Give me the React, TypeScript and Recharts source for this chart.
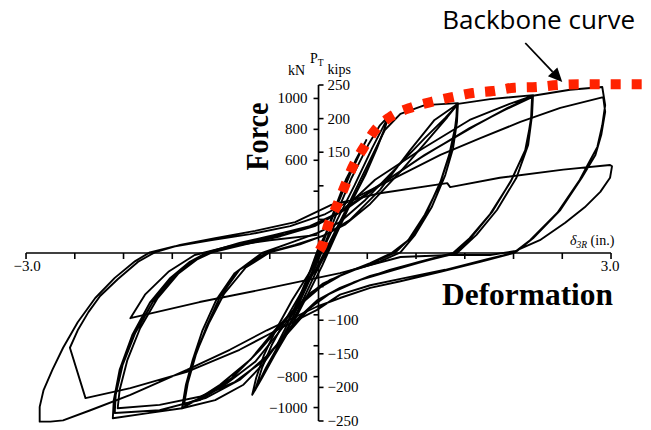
import React from 'react';
import { LineChart, Line, XAxis, YAxis, ReferenceLine, ReferenceDot } from 'recharts';

type Pt = [number, number];

// Lateral deflection δ3R (in.) against shear P_T (kips), one array per amplitude group.
const smallCycles: Pt[] = [
  [0, 0], [0.08, 31], [0.18, 71], [0.28, 109], [0.34, 126], [0.29, 109], [0.2, 74], [0.1, 37],
  [-0.01, 4], [-0.09, -28], [-0.17, -60], [-0.23, -85], [-0.17, -65], [-0.08, -33], [0.02, 4],
  [0.12, 46], [0.24, 91], [0.38, 138], [0.49, 168], [0.44, 153], [0.32, 116], [0.18, 67], [0.04, 16],
  [-0.09, -28], [-0.21, -70], [-0.35, -115], [-0.44, -141], [-0.35, -122], [-0.23, -85], [-0.09, -40],
  [0.04, 4], [0.18, 57],
];

const cycles05: Pt[] = [
  [0.18, 57], [0.34, 112], [0.51, 161], [0.63, 190], [0.72, 204], [0.69, 190], [0.6, 156], [0.48, 116],
  [0.32, 71], [0.17, 24], [0.04, -18], [-0.11, -62], [-0.27, -107], [-0.45, -152], [-0.58, -186],
  [-0.68, -211], [-0.64, -186], [-0.56, -152], [-0.44, -115], [-0.27, -70], [-0.11, -33], [0.04, 4],
  [0.2, 52], [0.37, 101], [0.55, 156], [0.71, 201], [0.68, 186], [0.58, 150], [0.45, 109], [0.28, 61],
  [0.12, 12], [-0.04, -33], [-0.21, -85], [-0.39, -132], [-0.54, -171], [-0.65, -204], [-0.58, -171],
  [-0.48, -137], [-0.33, -97], [-0.19, -62], [-0.03, -25], [0.1, 12], [0.27, 61],
];

const cycles15: Pt[] = [
  [0.27, 61], [0.48, 124], [0.68, 183], [0.84, 207], [1.09, 220], [1.43, 223],
  [1.42, 195], [1.38, 156], [1.3, 116], [1.16, 68], [0.99, 27], [0.84, 1], [0.63, -13], [0.37, -25],
  [0.12, -40], [-0.07, -58], [-0.24, -82], [-0.45, -115], [-0.7, -159], [-1.01, -196], [-1.22, -216],
  [-1.4, -231],
  [-1.36, -196], [-1.29, -159], [-1.19, -115], [-1.05, -70], [-0.86, -30], [-0.58, 0], [-0.29, 15],
  [-0.01, 30], [0.22, 46], [0.48, 79], [0.78, 124], [1.09, 171], [1.3, 201], [1.42, 220],
  [1.41, 190], [1.35, 150], [1.26, 109], [1.12, 64], [0.96, 25], [0.79, 1], [0.58, -13], [0.3, -28],
  [0.04, -46], [-0.14, -67], [-0.34, -100], [-0.6, -144], [-0.89, -186], [-1.16, -213], [-1.38, -226],
  [-1.34, -193], [-1.26, -152], [-1.15, -110], [-1.01, -65], [-0.81, -25], [-0.54, 0], [-0.24, 12],
  [0.04, 25], [0.27, 42], [0.53, 73], [0.84, 121], [1.12, 168], [1.32, 202], [1.43, 222],
  [1.4, 186], [1.34, 146], [1.24, 101], [1.09, 57], [0.92, 19], [0.75, 0], [0.53, -15], [0.27, -30],
  [0.02, -51], [-0.19, -77], [-0.39, -115], [-0.65, -162], [-0.96, -196], [-1.22, -219], [-1.39, -225],
  [-1.34, -189], [-1.25, -147], [-1.12, -103], [-0.97, -61], [-0.75, -22], [-0.5, 1], [-0.19, 13],
  [0.07, 27], [0.32, 49], [0.63, 94], [0.94, 153], [1.19, 198], [1.43, 222],
];

const cycles22: Pt[] = [
  [1.43, 222], [1.76, 229], [2.2, 235],
  [2.19, 205], [2.15, 161], [2.03, 112], [1.83, 64], [1.62, 27], [1.42, 0], [1.14, -10], [0.84, -22],
  [0.53, -34], [0.22, -52], [-0.01, -70], [-0.21, -97], [-0.39, -129], [-0.58, -167], [-0.77, -196],
  [-1.06, -219], [-1.4, -231], [-1.73, -238], [-2.11, -246],
  [-2.1, -219], [-2.04, -174], [-1.91, -122], [-1.73, -74], [-1.52, -37], [-1.32, -13], [-1.14, 1],
  [-0.81, 15], [-0.45, 27], [-0.09, 40], [0.22, 61], [0.58, 97], [1.04, 141], [1.55, 186], [1.91, 213],
  [2.19, 232],
  [2.18, 201], [2.13, 156], [1.98, 109], [1.78, 61], [1.57, 24], [1.4, 0], [1.09, -12], [0.78, -25],
  [0.43, -40], [0.12, -60], [-0.09, -82], [-0.29, -115], [-0.55, -156], [-0.81, -189], [-1.16, -216],
  [-1.63, -234], [-2.09, -238],
  [-2.08, -211], [-2.01, -167], [-1.88, -119], [-1.7, -73], [-1.49, -36], [-1.29, -12], [-1.09, 1],
  [-0.75, 13], [-0.39, 25], [-0.04, 40], [0.27, 64], [0.63, 101], [1.09, 146], [1.61, 190], [1.94, 216],
  [2.2, 234],
  [2.18, 198], [2.12, 153], [1.97, 106], [1.76, 58], [1.55, 22], [1.38, 0], [1.04, -13], [0.73, -25],
  [0.37, -43], [0.07, -64], [-0.14, -88], [-0.34, -122], [-0.58, -162], [-0.86, -192], [-1.22, -214],
  [-1.63, -226], [-2.06, -231],
  [-2.04, -204], [-1.96, -159], [-1.83, -112], [-1.65, -67], [-1.44, -31], [-1.24, -9], [-1.06, 3],
  [-0.7, 16], [-0.34, 28], [-0.01, 43], [0.27, 67], [0.58, 109], [1.04, 153], [1.55, 198], [1.96, 222],
  [2.2, 234],
];

const cycles30: Pt[] = [
  [2.2, 234], [2.58, 243], [2.91, 247],
  [2.94, 220], [2.91, 190], [2.86, 158], [2.76, 131], [2.68, 109], [2.45, 60], [2.17, 19], [2.0, 0],
  [1.66, -13], [1.25, -28], [0.84, -42], [0.53, -52], [0.22, -67], [-0.02, -80], [-0.53, -115],
  [-0.91, -144], [-1.35, -174], [-1.93, -211], [-2.34, -234], [-2.62, -249], [-2.75, -251], [-2.86, -251],
  [-2.86, -229], [-2.82, -204], [-2.73, -174], [-2.62, -141], [-2.47, -103], [-2.29, -67], [-2.09, -37],
  [-1.88, -12], [-1.73, 1], [-1.47, 10], [-1.11, 19], [-0.7, 28], [-0.29, 40], [0.07, 58], [0.43, 86],
  [0.84, 116], [1.25, 146], [1.66, 171], [2.07, 195], [2.48, 216], [2.92, 232],
  [2.94, 210], [2.9, 176], [2.84, 146], [2.7, 112], [2.48, 64], [2.2, 22], [2.02, 1], [1.71, -10],
  [1.3, -25], [0.89, -37], [0.53, -48], [0.22, -62], [-0.02, -85], [-0.39, -112], [-0.81, -144],
  [-1.35, -177], [-1.93, -201], [-2.39, -216],
  [-2.55, -141], [-2.47, -115], [-2.36, -88], [-2.24, -64], [-2.06, -39], [-1.85, -13], [-1.68, 1],
  [-1.42, 12], [-1.06, 22], [-0.65, 33], [-0.24, 46], [0.12, 71], [0.63, 89], [1.32, 104], [1.35, 98],
  [1.86, 112], [2.51, 124], [2.99, 131], [3.01, 129],
  [2.99, 112], [2.89, 91], [2.73, 68], [2.53, 45], [2.27, 19], [2.02, 3], [1.76, -3], [1.35, -3],
  [0.84, -6], [0.22, -30], [-0.5, -52], [-1.22, -73], [-1.93, -97],
  [-1.78, -62], [-1.54, -28], [-1.27, -3], [-0.91, 10], [-0.5, 19], [-0.01, 27],
];

// Envelope of the first excursions to each amplitude
const backbone: Pt[] = [
  [0.01, 4], [0.04, 12], [0.1, 42], [0.19, 71], [0.27, 100], [0.35, 128], [0.46, 156], [0.58, 183],
  [0.73, 202], [0.96, 217], [1.16, 225], [1.37, 232], [1.58, 238], [1.79, 241], [2.01, 246], [2.24, 247],
  [2.46, 250], [2.68, 251], [2.91, 251], [3.11, 251], [3.41, 251],
];

const xTicks = [-3, -2.5, -2, -1.5, -1, -0.5, 0.5, 1, 1.5, 2, 2.5, 3];
const xTickLabels = [-3, 3];
const kipTicks = [-250, -200, -150, -100, -50, 50, 100, 150, 200, 250];
const kipTickLabels = [250, 200, 150, -100, -150, -200, -250];
const kNTicks = [-1000, -800, -600, -400, 400, 600, 800, 1000];
const kNTickLabels = [1000, 800, 600, -800, -1000];
const KIPS_PER_KN = 0.23;

const X_DOMAIN: [number, number] = [-3.267, 3.41];
const Y_DOMAIN: [number, number] = [-263.4, 376.5];

const SERIF = '"Liberation Serif", "Times New Roman", serif';
const SANS = '"Open Sans", "Noto Sans", sans-serif';
const INK = '#000';
const RED = '#ff2200';

const toPoints = (pts: Pt[]) => pts.map(([x, y]) => ({ x, y }));
const signed = (v: number, digits = 0) =>
  (v < 0 ? '\u2212' : '') + Math.abs(v).toFixed(digits);

const TICK_FONT = { fontFamily: SERIF, fontSize: 15, fill: INK } as const;

export default function App() {
  const loops = [smallCycles, cycles05, cycles15, cycles22, cycles30];

  return (
    <div style={{ position: 'absolute', left: 0, top: 0, background: '#fff' }}>
      <LineChart width={651} height={430} margin={{ top: 0, right: 0, bottom: 0, left: 0 }}>
        <XAxis type="number" dataKey="x" domain={X_DOMAIN} hide allowDataOverflow />
        <YAxis type="number" dataKey="y" domain={Y_DOMAIN} hide allowDataOverflow />

        {loops.map((pts, i) => (
          <Line
            key={`loop${i}`}
            data={toPoints(pts)}
            dataKey="y"
            type="linear"
            stroke={INK}
            strokeWidth={1.9}
            strokeLinejoin="round"
            dot={false}
            activeDot={false}
            isAnimationActive={false}
          />
        ))}

        {/* axes through the origin */}
        <ReferenceLine segment={[{ x: -3, y: 0 }, { x: 3, y: 0 }]} stroke={INK} strokeWidth={1.7} ifOverflow="visible" />
        <ReferenceLine segment={[{ x: 0, y: -250 }, { x: 0, y: 250 }]} stroke={INK} strokeWidth={1.7} ifOverflow="visible" />

        {xTicks.map((t) => (
          <ReferenceDot
            key={`xt${t}`}
            x={t}
            y={0}
            r={0}
            ifOverflow="visible"
            shape={(p: any) => (
              <line x1={p.cx} y1={p.cy} x2={p.cx} y2={p.cy + 6} stroke={INK} strokeWidth={1.6} />
            )}
          />
        ))}
        {xTickLabels.map((t) => (
          <ReferenceDot
            key={`xl${t}`}
            x={t}
            y={0}
            r={0}
            ifOverflow="visible"
            shape={(p: any) => (
              <text x={p.cx + (t < 0 ? 1 : -1)} y={p.cy + 18} textAnchor="middle" {...TICK_FONT}>
                {signed(t, 1)}
              </text>
            )}
          />
        ))}

        {kipTicks.map((t) => (
          <ReferenceDot
            key={`kt${t}`}
            x={0}
            y={t}
            r={0}
            ifOverflow="visible"
            shape={(p: any) => (
              <line x1={p.cx} y1={p.cy} x2={p.cx + 5} y2={p.cy} stroke={INK} strokeWidth={1.6} />
            )}
          />
        ))}
        {kipTickLabels.map((t) => (
          <ReferenceDot
            key={`kl${t}`}
            x={0}
            y={t}
            r={0}
            ifOverflow="visible"
            shape={(p: any) => (
              <text x={p.cx + 9} y={p.cy + 5} textAnchor="start" {...TICK_FONT}>
                {signed(t)}
              </text>
            )}
          />
        ))}

        {kNTicks.map((t) => (
          <ReferenceDot
            key={`nt${t}`}
            x={0}
            y={t * KIPS_PER_KN}
            r={0}
            ifOverflow="visible"
            shape={(p: any) => (
              <line x1={p.cx - 5} y1={p.cy} x2={p.cx} y2={p.cy} stroke={INK} strokeWidth={1.6} />
            )}
          />
        ))}
        {kNTickLabels.map((t) => (
          <ReferenceDot
            key={`nl${t}`}
            x={0}
            y={t * KIPS_PER_KN}
            r={0}
            ifOverflow="visible"
            shape={(p: any) => (
              <text x={p.cx - 11} y={p.cy + 5} textAnchor="end" {...TICK_FONT}>
                {signed(t)}
              </text>
            )}
          />
        ))}

        {/* unit headers above the force axis */}
        <ReferenceDot
          x={0}
          y={250}
          r={0}
          ifOverflow="visible"
          shape={(p: any) => (
            <g fontFamily={SERIF} fill={INK}>
              <text x={p.cx - 30.5} y={p.cy - 10} fontSize={14}>kN</text>
              <text x={p.cx - 8.5} y={p.cy - 22} fontSize={14}>
                P<tspan fontSize={9.5} dy={3}>T</tspan>
              </text>
              <text x={p.cx + 9} y={p.cy - 11} fontSize={14}>kips</text>
            </g>
          )}
        />

        {/* deflection label and axis titles */}
        <ReferenceDot
          x={3}
          y={0}
          r={0}
          ifOverflow="visible"
          shape={(p: any) => (
            <g fontFamily={SERIF} fill={INK}>
              <text x={p.cx - 41} y={p.cy - 8} fontSize={14}>
                <tspan fontStyle="italic">δ</tspan>
                <tspan fontStyle="italic" fontSize={9.5} dy={3}>3R</tspan>
                <tspan dy={-3}> (in.)</tspan>
              </text>
              <text
                x={p.cx - 169}
                y={p.cy + 52}
                fontSize={32}
                fontWeight="bold"
                textLength={171}
                lengthAdjust="spacingAndGlyphs"
              >
                Deformation
              </text>
            </g>
          )}
        />
        <ReferenceDot
          x={0}
          y={0}
          r={0}
          ifOverflow="visible"
          shape={(p: any) => {
            const tx = p.cx - 50.5;
            const ty = p.cy - 116.5;
            return (
              <text
                x={tx}
                y={ty}
                transform={`rotate(-90, ${tx}, ${ty})`}
                textAnchor="middle"
                fontFamily={SERIF}
                fontSize={31}
                fontWeight="bold"
                fill={INK}
                textLength={68}
                lengthAdjust="spacingAndGlyphs"
              >
                Force
              </text>
            );
          }}
        />

        <Line
          data={toPoints(backbone)}
          dataKey="y"
          type="monotone"
          stroke={RED}
          strokeWidth={10}
          strokeDasharray="10 11"
          strokeLinecap="butt"
          dot={false}
          activeDot={false}
          isAnimationActive={false}
        />

        {/* callout pointing at the envelope */}
        <ReferenceDot
          x={2.5}
          y={250}
          r={0}
          ifOverflow="visible"
          shape={(p: any) => {
            const tipX = p.cx;
            const tipY = p.cy - 3;
            const sx = tipX - 37;
            const sy = tipY - 39;
            const len = Math.hypot(tipX - sx, tipY - sy);
            const ux = (tipX - sx) / len;
            const uy = (tipY - sy) / len;
            const bx = tipX - ux * 14;
            const by = tipY - uy * 14;
            const head = `${tipX},${tipY} ${bx - uy * 6.5},${by + ux * 6.5} ${bx + uy * 6.5},${by - ux * 6.5}`;
            return (
              <g>
                <line x1={sx} y1={sy} x2={bx} y2={by} stroke={INK} strokeWidth={1.8} />
                <polygon points={head} fill={INK} />
                <text x={p.cx - 120} y={p.cy - 56} fontFamily={SANS} fontSize={26} fill={INK}>
                  Backbone curve
                </text>
              </g>
            );
          }}
        />
      </LineChart>
    </div>
  );
}
